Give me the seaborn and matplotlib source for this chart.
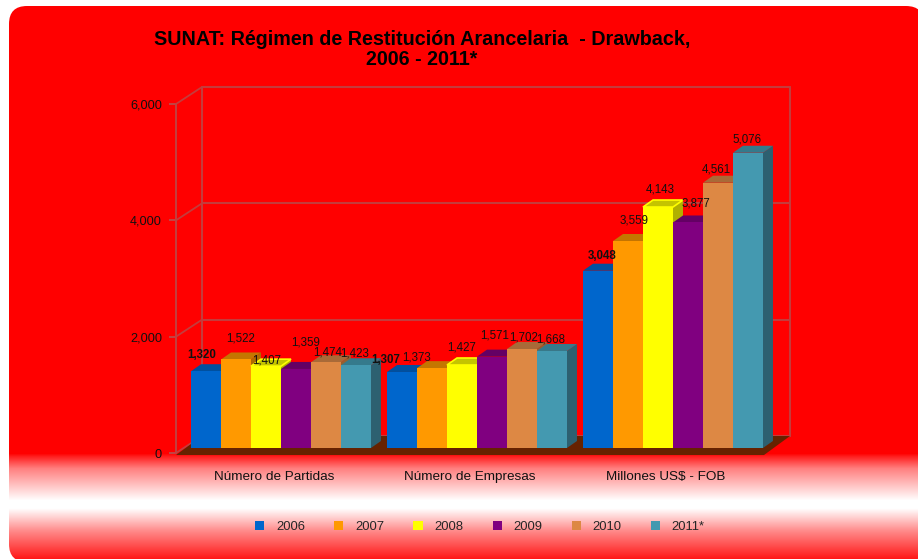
import numpy as np
import pandas as pd
import matplotlib
matplotlib.use("Agg")
import matplotlib.pyplot as plt
import matplotlib.transforms as mtrans
from matplotlib.patches import Polygon, FancyBboxPatch
import seaborn as sns

categories = ["Número de Partidas", "Número de Empresas", "Millones US$ - FOB"]
years = ["2006", "2007", "2008", "2009", "2010", "2011*"]
v2006 = [1320, 1307, 3048]
v2007 = [1522, 1373, 3559]
v2008 = [1407, 1427, 4143]
v2009 = [1359, 1571, 3877]
v2010 = [1474, 1702, 4561]
v2011 = [1423, 1668, 5076]
series = [v2006, v2007, v2008, v2009, v2010, v2011]
colors = ["#0066CC", "#FF9900", "#FFFF00", "#800080", "#DD8844", "#4499B0"]
tops = ["#00509F", "#C47600", "#C4C400", "#640064", "#A86A38", "#357A8C"]
top_edges = ["none", "none", "#FFFF00", "none", "none", "none"]
sides = ["#004A90", "#B06A00", "#B0B000", "#560056", "#966030", "#2D6070"]
bold_labels = {"1,320", "1,307", "3,048"}
# hand placement of each value label relative to its bar (pixels)
label_shift = [
    [(-4, 16), (5, 21), (1, 6), (10, 26), (2, 10), (-1, 12)],
    [(-16, 12), (-15, 11), (0, 17), (3, 21), (2, 12), (-1, 11)],
    [(4, 15), (6, 20), (2, 18), (8, 19), (-2, 13), (-1, 13)],
]

W, H = 918, 559
sns.set_theme(style="white")
plt.rcParams["font.family"] = ["Liberation Sans", "DejaVu Sans"]

df = pd.DataFrame(
    [(c, y, s[i]) for y, s in zip(years, series) for i, c in enumerate(categories)],
    columns=["cat", "year", "val"],
)

fig = plt.figure(figsize=(W / 100, H / 100), dpi=100, facecolor="white")

# background rounded panel with red/white gradient
bg = fig.add_axes([0, 0, 1, 1], zorder=0)
bg.set_xlim(0, W)
bg.set_ylim(H, 0)
bg.axis("off")
rows = np.arange(H)
white = np.interp(rows, [0, 453, 456, 468, 500, 508, 530, 559], [0, 0, 0.12, 0.5, 1, 1, 0.55, 0.08])
grad = np.ones((H, 1, 3))
grad[:, 0, 1] = white
grad[:, 0, 2] = white
im = bg.imshow(grad, extent=(0, W, H, 0), aspect="auto", interpolation="bilinear")
panel = FancyBboxPatch((9, 6), 915, 556, boxstyle="round,pad=0,rounding_size=18",
                       transform=bg.transData, facecolor="none", edgecolor="none")
bg.add_patch(panel)
im.set_clip_path(panel)

# front plane of the chart
left, right, y0, y1 = 176, 764, 453, 104
ax = fig.add_axes([left / W, 1 - y0 / H, (right - left) / W, (y0 - y1) / H], zorder=1)
ax.patch.set_alpha(0)

sns.barplot(data=df, x="cat", y="val", hue="year", hue_order=years, order=categories,
            palette=colors, saturation=1, width=0.918, gap=0, ax=ax, legend=True,
            edgecolor="none", linewidth=0)
ax.set_xlim(-0.5, 2.5)
ax.set_ylim(0, 6000)
ax.set_xlabel("")
ax.set_ylabel("")
ax.set_yticks([0, 2000, 4000, 6000])
ax.set_yticklabels(["0", "2,000", "4,000", "6,000"])
ax.tick_params(axis="y", length=5, width=1.2, color="#B85050", labelsize=9.2, pad=5, labelcolor="#111111", left=True)
ax.tick_params(axis="x", length=0, labelsize=9.7, pad=13, labelcolor="#111111")
for s in ["top", "right", "bottom"]:
    ax.spines[s].set_visible(False)
ax.spines["left"].set_color("#C24040")
ax.spines["left"].set_linewidth(1.4)

px_x = (right - left) / 3      # pixels per category
px_y = (y0 - y1) / 6000        # pixels per unit

# chart box: back wall, left wall, floor
wall_col = "#C43C3C"
back = ax.transData + mtrans.Affine2D().translate(26, 17)
for t in ax.get_yticks():
    ax.plot([-0.5, 2.5], [t, t], transform=back, color=wall_col, lw=1.5, clip_on=False, zorder=0.5)
    ax.plot([-0.5, -0.5 + 26 / px_x], [t, t + 17 / px_y], color=wall_col, lw=1.3, clip_on=False, zorder=0.5)
ax.plot([-0.5, -0.5], [0, 6000], transform=back, color=wall_col, lw=1.5, clip_on=False, zorder=0.5)
ax.plot([2.5, 2.5], [0, 6000], transform=back, color=wall_col, lw=1.5, clip_on=False, zorder=0.5)
fd = (26 / px_x, 17 / px_y)
ax.add_patch(Polygon([(-0.5, -35), (2.5, -35), (2.5 + fd[0], fd[1]), (-0.5 + fd[0], fd[1])],
                     closed=True, facecolor="#662200", edgecolor="none", clip_on=False, zorder=1))

# bars pushed into the box, with depth faces derived from each bar
bar_tr = ax.transData + mtrans.Affine2D().translate(7, 5)
dX, dY = 10 / px_x, 7 / px_y
for i, cont in enumerate(ax.containers):
    for j, rect in enumerate(cont):
        x0, w, h = rect.get_x(), rect.get_width(), rect.get_height()
        x1 = x0 + w
        z = 2 + j + i * 0.1
        rect.set_transform(bar_tr)
        rect.set_clip_on(False)
        rect.set_zorder(z + 0.03)
        ax.add_patch(Polygon([(x1, 0), (x1 + dX, dY), (x1 + dX, h + dY), (x1, h)], closed=True,
                             facecolor=sides[i], edgecolor="none", transform=bar_tr, clip_on=False, zorder=z))
        ax.add_patch(Polygon([(x0, h), (x1, h), (x1 + dX, h + dY), (x0 + dX, h + dY)], closed=True,
                             facecolor=tops[i], edgecolor=top_edges[i], linewidth=1.2, transform=bar_tr,
                             clip_on=False, zorder=z + 0.01))
        txt = f"{series[i][j]:,}"
        sx, sy = label_shift[j][i]
        ax.annotate(txt, xy=(x0 + w / 2, h), xycoords=bar_tr, xytext=(sx, sy), textcoords="offset pixels",
                    ha="center", va="center", fontsize=8.3, color="#111111",
                    fontweight="bold" if txt in bold_labels else "normal", zorder=20, annotation_clip=False)

sns.move_legend(ax, loc="center", bbox_to_anchor=(480 / W, 1 - 527 / H), bbox_transform=fig.transFigure,
                ncol=6, frameon=False, title=None, fontsize=9.4, handlelength=0.7, handleheight=0.7,
                handletextpad=0.9, columnspacing=2.24)

fig.text(422 / W, 1 - 49.5 / H, "SUNAT: Régimen de Restitución Arancelaria  - Drawback,\n2006 - 2011*",
         ha="center", va="center", fontsize=14.2, fontweight="bold", color="black", linespacing=1.1, zorder=5)

fig.savefig("out.png", dpi=100)
